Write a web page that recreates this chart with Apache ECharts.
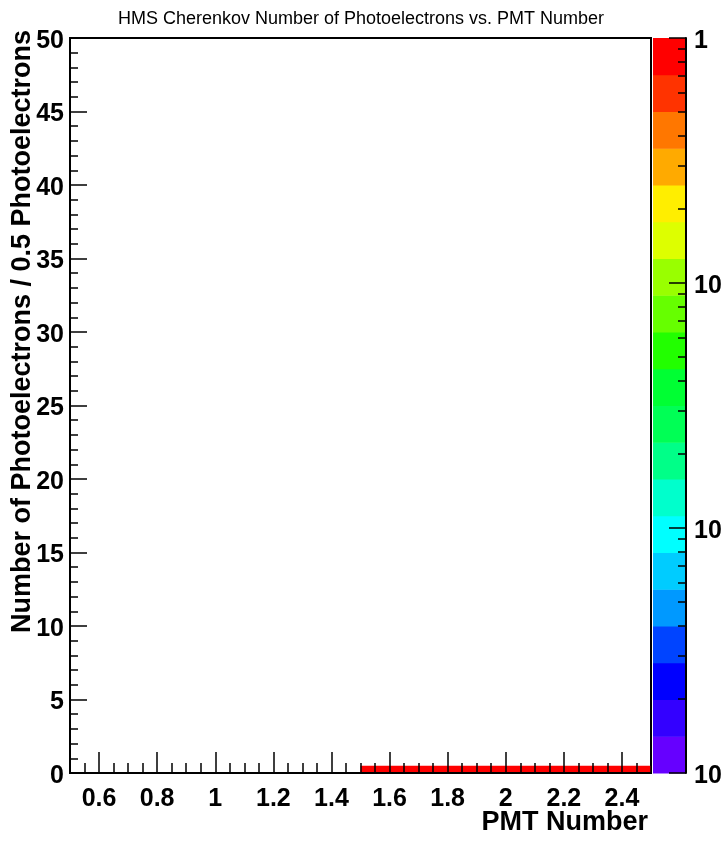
<!DOCTYPE html>
<html><head><meta charset="utf-8">
<script src="https://cdn.jsdelivr.net/npm/echarts@6/dist/echarts.min.js"></script>
<style>html,body{margin:0;padding:0;background:#fff}#c{width:728px;height:847px}</style>
</head><body><div id="c"></div><script>
// ---- data ----
const chartTitle = 'HMS Cherenkov Number of Photoelectrons vs. PMT Number';
const xTitle = 'PMT Number';
const yTitle = 'Number of Photoelectrons / 0.5 Photoelectrons';
const xRange = [0.5, 2.5];
const yRange = [0, 50];
const xTickValues = [0.6, 0.8, 1.0, 1.2, 1.4, 1.6, 1.8, 2.0, 2.2, 2.4];
const xTickLabels = ['0.6', '0.8', '1', '1.2', '1.4', '1.6', '1.8', '2', '2.2', '2.4'];
const yTickValues = [0, 5, 10, 15, 20, 25, 30, 35, 40, 45, 50];
const yTickLabels = ['0', '5', '10', '15', '20', '25', '30', '35', '40', '45', '50'];
const zRange = [0.001, 1];
const zTickValues = [0.001, 0.01, 0.1, 1];
const zTickLabels = ['10', '10', '10', '1'];
const pmtBinWidth = 1;
const npeBinWidth = 0.5;
const cellPmt = [2];
const cellNpe = [0];
const cellCount = [1];
const palette = ['#6600ff', '#3300ff', '#0000ff', '#0044ff', '#0099ff', '#00ccff', '#00ffff', '#00ffcc', '#00ff88', '#00ff55',
                 '#00ff33', '#22ff00', '#66ff00', '#99ff00', '#ddff00', '#ffee00', '#ffaa00', '#ff7700', '#ff3300', '#ff0000'];

// ---- layout ----
const FONT = 'Liberation Sans, Arial, Helvetica, sans-serif';
const zLo = Math.log10(zRange[0]), zHi = Math.log10(zRange[1]);
const zMajor = zTickValues.map(v => Math.log10(v));
const zMinor = [];
for (let d = Math.floor(zLo); d < Math.ceil(zHi); d++) for (let k = 2; k <= 9; k++) zMinor.push(d + Math.log10(k));

function colorOf(z) {
  const n = palette.length;
  let i = Math.floor((Math.log10(z) - zLo) / (zHi - zLo) * n);
  return palette[Math.max(0, Math.min(n - 1, i))];
}
const labelStyle = { color: '#000', fontFamily: FONT, fontWeight: 'bold', fontSize: 25 };
const plotGrid = { left: 70, top: 38, right: 77, bottom: 74 };
const cbGrid = { left: 653, top: 38, right: 42, bottom: 74 };

const chart = echarts.init(document.getElementById('c'), null, { renderer: 'canvas' });
chart.setOption({
  animation: false,
  backgroundColor: '#fff',
  grid: [
    Object.assign({ show: true, borderColor: '#000', borderWidth: 2, backgroundColor: 'transparent' }, plotGrid),
    Object.assign({}, cbGrid),
    Object.assign({}, plotGrid),
    Object.assign({}, cbGrid)
  ],
  xAxis: [
    { gridIndex: 0, type: 'value', min: xRange[0], max: xRange[1], interval: 0.05, z: 5,
      axisLine: { show: true, onZero: false, lineStyle: { color: '#000', width: 2 } },
      axisTick: { show: true, inside: true, length: 10, lineStyle: { color: '#000', width: 1.5 } },
      splitLine: { show: false },
      axisLabel: Object.assign({ customValues: xTickValues, margin: 14,
        formatter: v => xTickLabels[xTickValues.findIndex(t => Math.abs(t - v) < 1e-6)] }, labelStyle) },
    { gridIndex: 1, type: 'value', min: 0, max: 1, show: false },
    { gridIndex: 2, type: 'value', min: xRange[0], max: xRange[1], z: 5,
      axisLine: { show: false, onZero: false },
      axisTick: { show: true, inside: true, length: 21, customValues: xTickValues, lineStyle: { color: '#000', width: 1.5 } },
      splitLine: { show: false }, axisLabel: { show: false } },
    { gridIndex: 3, type: 'value', min: 0, max: 1, show: false }
  ],
  yAxis: [
    { gridIndex: 0, type: 'value', min: yRange[0], max: yRange[1], interval: 5, z: 5,
      axisLine: { show: true, onZero: false, lineStyle: { color: '#000', width: 2 } },
      axisTick: { show: true, inside: true, length: 17, lineStyle: { color: '#000', width: 1.5 } },
      minorTick: { show: true, splitNumber: 5, length: 8, lineStyle: { color: '#000', width: 1.5 } },
      splitLine: { show: false }, minorSplitLine: { show: false },
      axisLabel: Object.assign({ customValues: yTickValues, margin: 6, verticalAlign: 'top', lineHeight: 6,
        formatter: v => yTickLabels[yTickValues.findIndex(t => Math.abs(t - v) < 1e-6)] }, labelStyle) },
    { gridIndex: 1, type: 'value', min: zLo, max: zHi, position: 'right', z: 5,
      axisLine: { show: true, onZero: false, lineStyle: { color: '#000', width: 2 } },
      axisTick: { show: true, inside: true, length: 17, customValues: zMajor, lineStyle: { color: '#000', width: 1.5 } },
      splitLine: { show: false },
      axisLabel: Object.assign({ customValues: zMajor, margin: 8, verticalAlign: 'top', lineHeight: 6,
        formatter: v => zTickLabels[zMajor.findIndex(t => Math.abs(t - v) < 1e-6)] }, labelStyle) },
    { gridIndex: 2, type: 'value', min: yRange[0], max: yRange[1], show: false },
    { gridIndex: 3, type: 'value', min: zLo, max: zHi, position: 'right', z: 5,
      axisLine: { show: false, onZero: false },
      axisTick: { show: true, inside: true, length: 8, customValues: zMinor, lineStyle: { color: '#000', width: 1.5 } },
      splitLine: { show: false }, axisLabel: { show: false } }
  ],
  series: [
    { type: 'custom', xAxisIndex: 0, yAxisIndex: 0, z: 1, clip: true,
      data: cellPmt.map((p, k) => [p, cellNpe[k], cellCount[k]]),
      encode: { x: 0, y: 1 },
      renderItem: (params, api) => {
        const p = api.value(0), y = api.value(1), z = api.value(2);
        const a = api.coord([p - pmtBinWidth / 2, y + npeBinWidth]);
        const b = api.coord([p + pmtBinWidth / 2, y]);
        return { type: 'rect', shape: { x: a[0], y: a[1], width: b[0] - a[0], height: b[1] - a[1] },
                 style: { fill: colorOf(z), stroke: null } };
      } },
    { type: 'custom', xAxisIndex: 1, yAxisIndex: 1, z: 1,
      data: palette.map((c, i) => [0, zLo, i]),
      encode: { x: 0, y: 1 },
      renderItem: (params, api) => {
        const i = api.value(2), n = palette.length;
        const lo = zLo + i * (zHi - zLo) / n, hi = zLo + (i + 1) * (zHi - zLo) / n;
        const a = api.coord([0, hi]), b = api.coord([1, lo]);
        return { type: 'rect', shape: { x: a[0], y: a[1], width: b[0] - a[0], height: b[1] - a[1] + 0.5 },
                 style: { fill: palette[i], stroke: null } };
      } }
  ],
  graphic: [
    { type: 'text', x: 361, y: 19, style: { text: chartTitle, fill: '#000', font: '18px ' + FONT, align: 'center', verticalAlign: 'middle' } },
    { type: 'text', x: 648, y: 823, style: { text: xTitle, fill: '#000', font: 'bold 27px ' + FONT, align: 'right', verticalAlign: 'middle' } },
    { type: 'text', x: 23, y: 30, rotation: Math.PI / 2, style: { text: yTitle, fill: '#000', font: 'bold 27px ' + FONT, align: 'right', verticalAlign: 'middle' } }
  ]
});
</script></body></html>
